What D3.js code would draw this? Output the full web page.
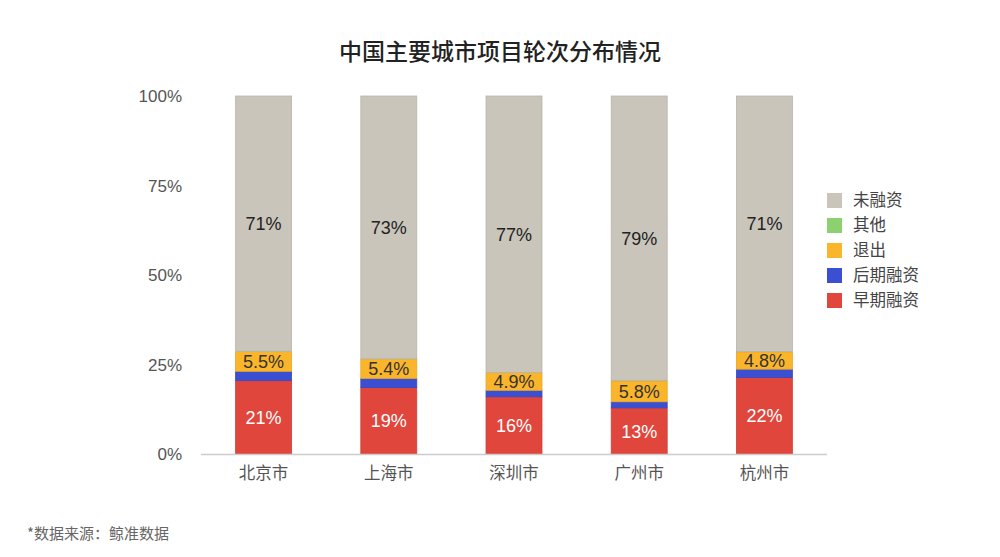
<!DOCTYPE html>
<html>
<head>
<meta charset="utf-8">
<script src="https://cdn.jsdelivr.net/npm/d3@7"></script>
<style>
  body { margin: 0; background: #fff; }
  svg { display: block; font-family: "Helvetica Neue", Arial, "Liberation Sans", "Noto Sans CJK SC", sans-serif; }
</style>
</head>
<body>
<div id="chart"></div>
<script>
// data (percent of projects)
var cities = ['北京市', '上海市', '深圳市', '广州市', '杭州市'];
var seriesNames = ['早期融资', '后期融资', '退出', '其他', '未融资'];
var early = [20.6, 18.7, 16.1, 13.0, 21.5];
var late = [2.6, 2.5, 1.8, 1.7, 2.3];
var exited = [5.5, 5.4, 4.9, 5.8, 4.8];
var other = [0.1, 0.1, 0.1, 0.1, 0.1];
var unfunded = [71.2, 73.3, 77.1, 79.4, 71.3];
var yTicks = [0, 25, 50, 75, 100];

var colors = ['#e0463c', '#3b4fd3', '#fbb52b', '#8cd070', '#c9c5bb'];
var labelColors = ['#fff', null, '#333', null, '#222'];
var labelFormats = [d3.format('.0f'), null, d3.format('.1f'), null, d3.format('.0f')];

var width = 1000, height = 557;
var svg = d3.select('#chart').append('svg').attr('width', width).attr('height', height);

var rows = cities.map(function (c, i) {
  return { city: c, '早期融资': early[i], '后期融资': late[i], '退出': exited[i], '其他': other[i], '未融资': unfunded[i] };
});
var stack = d3.stack().keys(seriesNames)(rows);

var x = d3.scaleBand().domain(cities).range([201, 827]).paddingInner(0.553).paddingOuter(0.2765);
var y = d3.scaleLinear().domain([0, 100]).range([454.5, 96]);

// title
svg.append('text')
   .attr('x', 500).attr('y', 60)
   .attr('text-anchor', 'middle')
   .attr('font-size', 23)
   .attr('font-weight', 500)
   .attr('font-family', '"Noto Sans CJK SC", sans-serif')
   .attr('fill', '#222')
   .text('中国主要城市项目轮次分布情况');

// bars
var layer = svg.selectAll('g.layer')
   .data(stack)
   .enter().append('g')
   .attr('class', 'layer')
   .attr('fill', function (d, i) { return colors[i]; })
   .attr('stroke', function (d, i) { return i == 3 ? 'none' : d3.color(colors[i]).darker(0.25); })
   .attr('stroke-width', 0.8);

layer.selectAll('rect')
   .data(function (d) { return d; })
   .enter().append('rect')
   .attr('x', function (d) { return x(d.data.city); })
   .attr('y', function (d) { return y(d[1]); })
   .attr('width', x.bandwidth())
   .attr('height', function (d) { return y(d[0]) - y(d[1]); });

// segment labels
stack.forEach(function (s, i) {
  if (!labelColors[i]) return;
  svg.append('g').selectAll('text')
     .data(s)
     .enter().append('text')
     .attr('x', function (d) { return x(d.data.city) + x.bandwidth() / 2; })
     .attr('y', function (d) { return (y(d[0]) + y(d[1])) / 2; })
     .attr('dy', '0.36em')
     .attr('text-anchor', 'middle')
     .attr('font-size', 18)
     .attr('fill', labelColors[i])
     .text(function (d) { return labelFormats[i](d[1] - d[0]) + '%'; });
});

// x axis
var xAxis = svg.append('g')
   .attr('transform', 'translate(0,' + y(0) + ')')
   .call(d3.axisBottom(x).tickSize(0).tickPadding(13));
xAxis.select('.domain').attr('stroke', '#ccc').attr('stroke-width', 1.5).attr('d', 'M201,0H827');
xAxis.selectAll('text').attr('font-size', 16.5).attr('fill', '#555')
   .attr('font-family', '"Noto Sans CJK SC", sans-serif');

// y axis
var yAxis = svg.append('g')
   .attr('transform', 'translate(182,0)')
   .call(d3.axisLeft(y).tickValues(yTicks).tickSize(0).tickPadding(0).tickFormat(function (d) { return d + '%'; }));
yAxis.select('.domain').remove();
yAxis.selectAll('text').attr('font-size', 17).attr('fill', '#555');

// legend, top item is the top of the stack
var legend = svg.append('g').attr('transform', 'translate(827,193)');
var legendItems = legend.selectAll('g')
   .data(seriesNames.slice().reverse())
   .enter().append('g')
   .attr('transform', function (d, i) { return 'translate(0,' + i * 25 + ')'; });
legendItems.append('rect')
   .attr('width', 15).attr('height', 15)
   .attr('fill', function (d) { return colors[seriesNames.indexOf(d)]; });
legendItems.append('text')
   .attr('x', 26).attr('y', 7.5).attr('dy', '0.36em')
   .attr('font-size', 16.5).attr('fill', '#444')
   .attr('font-family', '"Noto Sans CJK SC", sans-serif')
   .text(function (d) { return d; });

// source note
svg.append('text')
   .attr('x', 27).attr('y', 534).attr('dy', '0.36em')
   .attr('font-size', 15).attr('fill', '#666')
   .attr('font-family', '"Noto Sans CJK SC", sans-serif')
   .text('*数据来源：鲸准数据');
</script>
</body>
</html>
